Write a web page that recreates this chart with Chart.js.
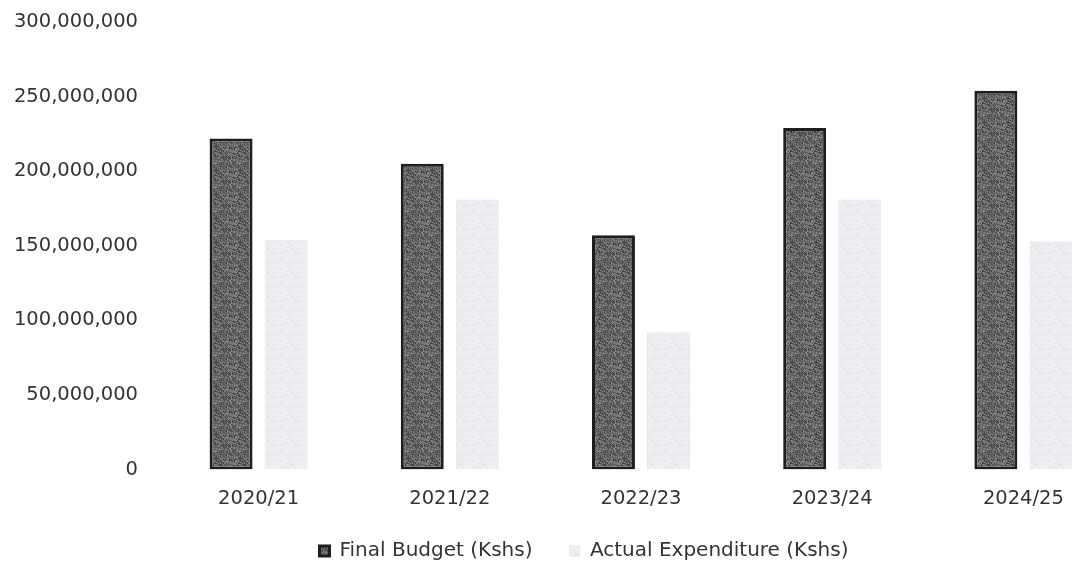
<!DOCTYPE html>
<html>
<head>
<meta charset="utf-8">
<script src="https://cdn.jsdelivr.net/npm/chart.js@4.4.0/dist/chart.umd.min.js"></script>
<style>
  html, body { margin: 0; padding: 0; background: #ffffff; overflow: hidden; }
  #wrap { width: 1168px; height: 571px; }
</style>
</head>
<body>
<div id="wrap"><canvas id="myChart"></canvas></div>
<script>
// datos
const years = ['2020/21', '2021/22', '2022/23', '2023/24', '2024/25'];
const finalBudget = [222000000, 205000000, 157000000, 229000000, 254000000];
const actualExpenditure = [154000000, 181000000, 92000000, 181000000, 153000000];
const yTicks = [0, 50000000, 100000000, 150000000, 200000000, 250000000, 300000000];

const textColor = '#343434';

// textura tipo escaneo (determinista, no son datos)
const makeTexture = (base, spread, tint) => {
    const c = document.createElement('canvas');
    c.width = 24;
    c.height = 24;
    const g = c.getContext('2d');
    for (let y = 0; y < 24; y++) {
        for (let x = 0; x < 24; x++) {
            const h = Math.sin(x * 12.9898 + y * 78.233) * 43758.5453;
            const n = (h - Math.floor(h)) - 0.5;
            const v = Math.max(0, Math.min(255, Math.round(base + n * spread)));
            g.fillStyle = 'rgb(' + v + ',' + v + ',' + Math.min(255, v + tint) + ')';
            g.fillRect(x, y, 1, 1);
        }
    }
    return g.createPattern(c, 'repeat');
};

const ctx = document.getElementById('myChart');

new Chart(ctx, {
    type: 'bar',
    data: {
        labels: years,
        datasets: [{
            label: 'Final Budget (Kshs)',
            data: finalBudget,
            backgroundColor: makeTexture(100, 80, 2),
            borderColor: '#1e1e1e',
            borderWidth: 3,
            borderSkipped: false
        }, {
            label: 'Actual Expenditure (Kshs)',
            data: actualExpenditure,
            backgroundColor: makeTexture(236, 16, 5),
            borderColor: '#e6e6ec',
            borderWidth: 1,
            borderSkipped: false
        }]
    },
    options: {
        responsive: true,
        maintainAspectRatio: false,
        animation: false,
        categoryPercentage: 0.576,
        barPercentage: 0.78,
        layout: { padding: { top: 22, right: 0, bottom: 0, left: 0 } },
        plugins: {
            tooltip: { enabled: false },
            legend: {
                position: 'bottom',
                labels: {
                    color: textColor,
                    font: { family: 'DejaVu Sans', size: 20 },
                    boxWidth: 10,
                    boxHeight: 10,
                    padding: 12,
                    generateLabels: (chart) => {
                        const items = Chart.defaults.plugins.legend.labels.generateLabels(chart);
                        items[0].text = items[0].text + '    '; // separacion entre items
                        return items;
                    }
                }
            }
        },
        scales: {
            x: {
                grid: { display: false, drawTicks: false },
                border: { display: false },
                ticks: {
                    color: textColor,
                    font: { family: 'DejaVu Sans', size: 19.5 },
                    padding: 18
                },
                afterFit: (scale) => {
                    scale.paddingLeft = 0;
                    scale.paddingRight = 0;
                }
            },
            y: {
                min: 0,
                max: 300000000,
                afterFit: (scale) => {
                    scale.width = 163;
                    scale.paddingTop = 0;
                    scale.paddingBottom = 0;
                },
                afterBuildTicks: (scale) => {
                    scale.ticks = yTicks.map(v => ({ value: v }));
                },
                grid: { display: false, drawTicks: false },
                border: { display: false },
                ticks: {
                    color: textColor,
                    font: { family: 'DejaVu Sans', size: 19.5 },
                    padding: 25,
                    callback: (value) => value.toLocaleString('en-US')
                }
            },
            // eje vacio a la derecha, solo para centrar la leyenda como en la imagen
            yRight: {
                position: 'right',
                grid: { display: false, drawTicks: false },
                border: { display: false },
                ticks: { display: false },
                afterFit: (scale) => {
                    scale.width = 49;
                    scale.paddingTop = 0;
                    scale.paddingBottom = 0;
                }
            }
        }
    }
});
</script>
</body>
</html>
